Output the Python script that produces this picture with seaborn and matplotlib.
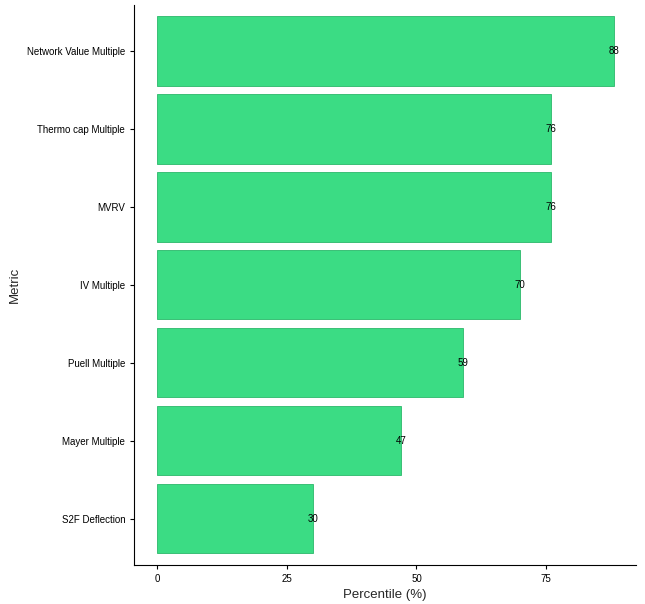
import matplotlib
matplotlib.use("Agg")
import matplotlib.pyplot as plt
import seaborn as sns
import pandas as pd

metrics = ["Network Value Multiple", "Thermo cap Multiple", "MVRV", "IV Multiple",
           "Puell Multiple", "Mayer Multiple", "S2F Deflection"]
percentiles = [88, 76, 76, 70, 59, 47, 30]

df = pd.DataFrame({"Metric": metrics, "Percentile": percentiles})

sns.set_style("ticks")
plt.rcParams["font.family"] = "Liberation Sans"
fig, ax = plt.subplots(figsize=(6.45, 6.04), dpi=100)
sns.barplot(data=df, x="Percentile", y="Metric", color="#3BDC84", width=0.89,
            edgecolor="#2BB86A", linewidth=0.6, saturation=1, ax=ax)

for i, v in enumerate(percentiles):
    ax.text(v, i, str(v), ha="center", va="center", fontsize=7, color="black")

ax.set_xlim(-4.4, 92.3)
ax.set_ylim(6.59, -0.59)
ax.set_xticks([0, 25, 50, 75])
ax.tick_params(axis="both", labelsize=7, colors="black", length=3)
ax.set_xlabel("Percentile (%)", fontsize=9.5)
ax.set_ylabel("Metric", fontsize=9.5)
for s in ["left", "bottom"]:
    ax.spines[s].set_color("black")
sns.despine(ax=ax)

fig.subplots_adjust(left=0.208, right=0.986, top=0.992, bottom=0.065)
fig.savefig("out.png", dpi=100)
